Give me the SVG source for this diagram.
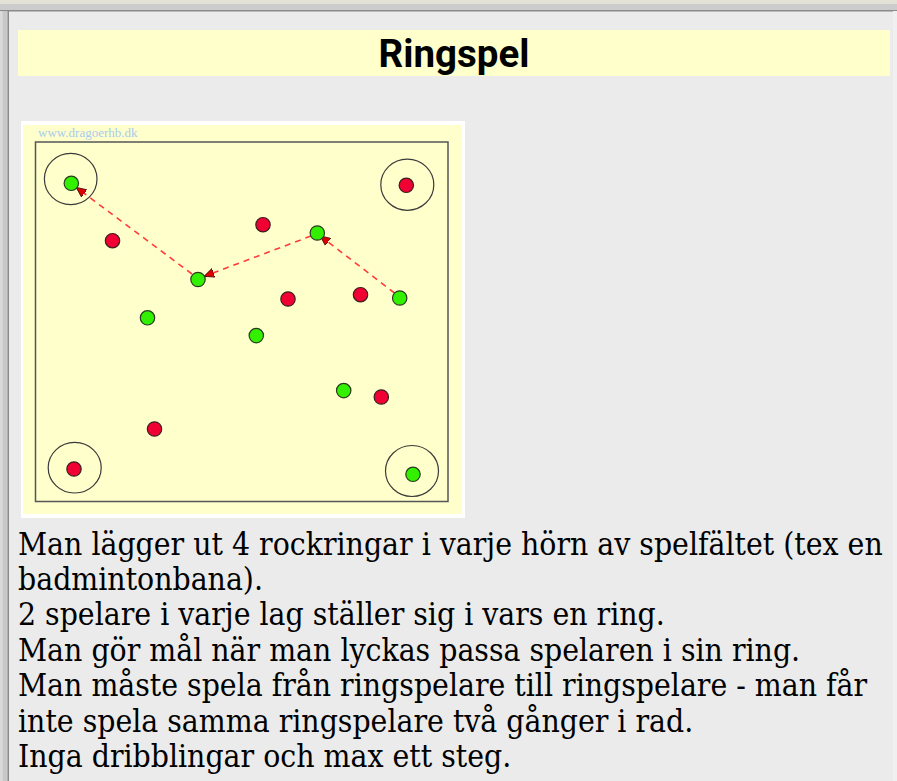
<svg xmlns="http://www.w3.org/2000/svg" width="897" height="781" viewBox="0 0 897 781">
<style>
.ring{fill:none;stroke:#3a3a3a;stroke-width:1.2}
.g{fill:#33f000;stroke:#2a3a20;stroke-width:1.2}
.r{fill:#f00033;stroke:#3a2020;stroke-width:1.2}
.pass{fill:none;stroke:#ff3b3b;stroke-width:1.6;stroke-dasharray:6 5}
.body{font-family:"DejaVu Serif Condensed","DejaVu Serif",serif;font-stretch:condensed;font-size:31.6px;fill:#000}
</style>
<defs>
<marker id="ah" viewBox="0 0 10 10" refX="9" refY="5" markerWidth="10" markerHeight="10" markerUnits="userSpaceOnUse" orient="auto">
<path d="M0,0.5 L10,5 L0,9.5 z" fill="#dd0000" stroke="#400" stroke-width="0.8"/>
</marker>
</defs>
<rect x="0" y="0" width="897" height="781" fill="#ebebeb"/>
<rect x="0" y="0" width="897" height="5" fill="#e4e2d6"/>
<rect x="0" y="4" width="897" height="6" fill="#cccccc"/>
<rect x="0" y="10" width="897" height="1.5" fill="#8a8a8a"/>
<rect x="0" y="11" width="2.5" height="770" fill="#dadada"/>
<rect x="2.5" y="11" width="5" height="770" fill="#c8c8c8"/>
<rect x="7.5" y="11" width="1.5" height="770" fill="#8a8a8a"/>
<rect x="893" y="11" width="4" height="770" fill="#f0f0f0"/>

<g id="title">
<rect x="18" y="30" width="872" height="46" fill="#ffffcc"/>
<text x="454" y="67" text-anchor="middle" font-family="Roboto, 'Liberation Sans', sans-serif" font-weight="bold" font-size="38.5" fill="#000">Ringspel</text>
</g>

<g id="field">
<rect x="21" y="121" width="444" height="397" fill="#ffffff"/>
<rect x="23" y="125" width="439" height="389" fill="#ffffcc"/>
<text x="38" y="137" font-family="'Liberation Serif', serif" font-size="13" fill="#a8ccee">www.dragoerhb.dk</text>
<rect x="35.5" y="142" width="412.5" height="359.5" fill="none" stroke="#555" stroke-width="1.5"/>
</g>

<g id="rings">
<ellipse class="ring" cx="70.7" cy="179" rx="26.3" ry="25.6"/>
<ellipse class="ring" cx="407.3" cy="184.7" rx="26.5" ry="25.6"/>
<ellipse class="ring" cx="74.7" cy="467.7" rx="26.5" ry="25.3"/>
<ellipse class="ring" cx="412" cy="471" rx="26.5" ry="25.5"/>
</g>

<g id="connectors">
<line class="pass" x1="394.5" y1="293" x2="321" y2="236.5" marker-end="url(#ah)"/>
<line class="pass" x1="311" y1="236" x2="205" y2="276" marker-end="url(#ah)"/>
<line class="pass" x1="192" y1="274" x2="77" y2="188" marker-end="url(#ah)"/>
</g>

<g id="green">
<circle class="g" cx="71.3" cy="183.3" r="7.2"/>
<circle class="g" cx="198" cy="279.5" r="7.2"/>
<circle class="g" cx="317.3" cy="233" r="7.2"/>
<circle class="g" cx="399.7" cy="298" r="7.2"/>
<circle class="g" cx="147.5" cy="317.8" r="7.2"/>
<circle class="g" cx="256.3" cy="335.6" r="7.2"/>
<circle class="g" cx="343.7" cy="390.6" r="7.2"/>
<circle class="g" cx="413" cy="474.3" r="7.2"/>
</g>

<g id="red">
<circle class="r" cx="406.3" cy="185.3" r="7.2"/>
<circle class="r" cx="112.5" cy="240.7" r="7.2"/>
<circle class="r" cx="263" cy="224.7" r="7.2"/>
<circle class="r" cx="288" cy="299" r="7.2"/>
<circle class="r" cx="360.5" cy="294.7" r="7.2"/>
<circle class="r" cx="381.3" cy="397" r="7.2"/>
<circle class="r" cx="154.5" cy="429" r="7.2"/>
<circle class="r" cx="74" cy="469" r="7.2"/>
</g>

<g id="description">
<text class="body" x="18" y="555">Man lägger ut 4 rockringar i varje hörn av spelfältet (tex en</text>
<text class="body" x="18" y="590">badmintonbana).</text>
<text class="body" x="18" y="625">2 spelare i varje lag ställer sig i vars en ring.</text>
<text class="body" x="18" y="660.5">Man gör mål när man lyckas passa spelaren i sin ring.</text>
<text class="body" x="18" y="696">Man måste spela från ringspelare till ringspelare - man får</text>
<text class="body" x="18" y="731.5">inte spela samma ringspelare två gånger i rad.</text>
<text class="body" x="18" y="767">Inga dribblingar och max ett steg.</text>
</g>
</svg>
